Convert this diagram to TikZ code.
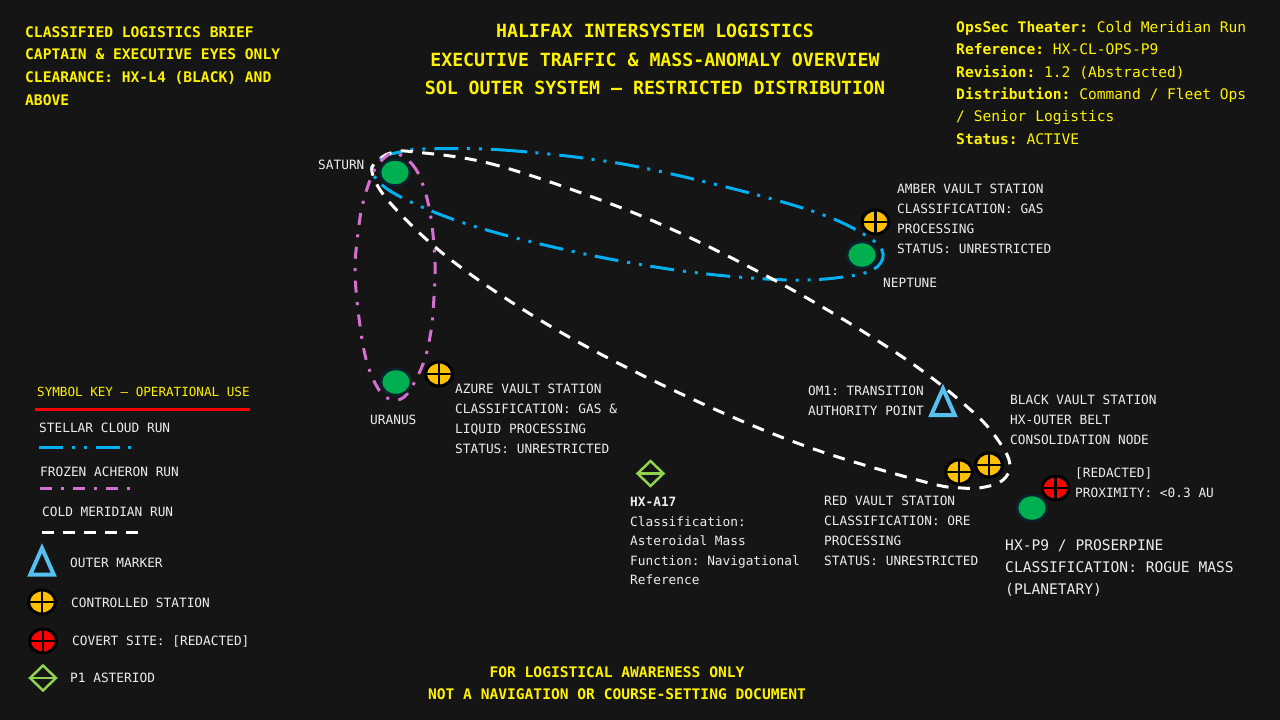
\documentclass[tikz,border=0pt]{standalone}
\usepackage{fontspec}
\setmainfont{DejaVu Sans Mono}
\usetikzlibrary{shapes.geometric}
\definecolor{bgc}{HTML}{151515}
\definecolor{runblue}{HTML}{00B0F0}
\definecolor{runpink}{HTML}{D56FD0}
\definecolor{planetg}{HTML}{00B050}
\definecolor{planetb}{HTML}{0B2330}
\definecolor{amberc}{HTML}{FFC000}
\definecolor{markerc}{HTML}{55C1F0}
\definecolor{astc}{HTML}{92D050}
\definecolor{labelc}{HTML}{EDEDED}
\tikzset{
  planet/.style={ellipse,draw=planetb,line width=2.5pt,fill=planetg,minimum width=30pt,minimum height=26pt,inner sep=0pt},
  crossed/.style={ellipse,draw=black,line width=3pt,fill=#1,minimum width=27pt,minimum height=24pt,inner sep=0pt,
    path picture={\draw[black,line width=2.2pt] (path picture bounding box.north)--(path picture bounding box.south)
      (path picture bounding box.west)--(path picture bounding box.east);}},
  markertri/.style={isosceles triangle,isosceles triangle apex angle=52,isosceles triangle stretches,shape border rotate=90,
    draw=markerc,line width=4pt,miter limit=10,minimum width=23.5pt,minimum height=26.5pt,inner sep=0pt},
  asteroid/.style={diamond,draw=astc,line width=2.5pt,minimum width=27pt,minimum height=26pt,inner sep=0pt,
    path picture={\draw[astc,line width=2.2pt] (path picture bounding box.west)--(path picture bounding box.east);}},
  bluerun/.style={draw=runblue,line width=3pt,dash pattern=on 24pt off 8.5pt on 3pt off 9pt on 3pt off 9pt},
  pinkrun/.style={draw=runpink,line width=3pt,dash pattern=on 12pt off 9.5pt on 3pt off 9.5pt},
  whiterun/.style={draw=white,line width=3pt,dash pattern=on 12pt off 9.5pt},
  lab/.style={text=labelc,font=\fontsize{12.8pt}{20pt}\selectfont,inner sep=0pt,align=left,anchor=north west},
  labline/.style={text=labelc,font=\fontsize{12.8pt}{20pt}\selectfont,inner sep=0pt,anchor=base west},
  biglab/.style={text=labelc,font=\fontsize{14.6pt}{22pt}\selectfont,inner sep=0pt,align=left,anchor=north west},
  ylab/.style={text=yellow,font=\fontsize{14.6pt}{22.4pt}\selectfont,inner sep=0pt,align=left,anchor=north west},
  ybold/.style={text=yellow,font=\fontsize{14.6pt}{22.7pt}\selectfont\bfseries,inner sep=0pt,align=left,anchor=north west},
  ytitle/.style={text=yellow,font=\fontsize{18.2pt}{28.5pt}\selectfont\bfseries,inner sep=0pt,align=center,anchor=north},
  yfoot/.style={text=yellow,font=\fontsize{14.6pt}{22.3pt}\selectfont\bfseries,inner sep=0pt,align=center,anchor=north},
}
\begin{document}
\begin{tikzpicture}[x=1pt,y=-1pt]
\frenchspacing
\useasboundingbox (0,0) rectangle (1280,720);
\fill[bgc] (0,0) rectangle (1280,720);
% anchors of the loops
\coordinate (satB) at (423,149);
\coordinate (satW) at (415,152);
\coordinate (satT) at (395,153);
\coordinate (uraB) at (393,400);
\coordinate (nepE) at (882,250);
\coordinate (blkE) at (1010,465);
% loops
\draw[bluerun] plot[smooth cycle,tension=.6] coordinates {(satB) (503,150) (617,163) (730,188) (815,212) (860,232) (nepE) (877,267) (850,276) (790,280) (690,272) (580,253) (470,225) (397,195) (372,172) (381,158) (400,152)};
\draw[whiterun] plot[smooth cycle,tension=.6] coordinates {(satW) (488,163) (587,195) (680,233) (798,293) (907,360) (973,412) (1000,443) (blkE) (1003,480) (985,487) (962,488) (925,482) (808,447) (690,398) (562,333) (455,263) (392,205) (372,172) (381,158) (395,152)};
\draw[pinkrun] plot[smooth cycle,tension=.6] coordinates {(satT) (412,164) (423,185) (431,218) (435,263) (434,297) (431,331) (423,364) (407,394) (uraB) (379,390) (366,359) (358,310) (355,270) (357,242) (362,207) (372,175) (382,160)};
% map symbols
\node[planet] (saturn) at (395,172.5) {};
\node[planet] (neptune) at (862,255) {};
\node[planet] (uranus) at (396,382) {};
\node[planet] (proserpine) at (1032,508) {};
\node[crossed=amberc] (amber) at (875.5,222) {};
\node[crossed=amberc] (azure) at (439,374) {};
\node[crossed=amberc] (redvault) at (959,472) {};
\node[crossed=amberc] (blackvault) at (989,465) {};
\node[crossed=red] (redacted) at (1055.5,488) {};
\node[markertri] (om1) at (943,407.5) {};
\node[asteroid] (a17) at (650.5,473.5) {};
% titles
\node[ybold] (brief) at (25,26) {CLASSIFIED LOGISTICS BRIEF\\CAPTAIN \& EXECUTIVE EYES ONLY\\CLEARANCE: HX-L4 (BLACK) AND\\ABOVE};
\node[ytitle] (title) at (655,24) {HALIFAX INTERSYSTEM LOGISTICS\\EXECUTIVE TRAFFIC \& MASS-ANOMALY OVERVIEW\\SOL OUTER SYSTEM — RESTRICTED DISTRIBUTION};
\node[ylab] (ops) at (956,21) {\textbf{OpsSec Theater:} Cold Meridian Run\\\textbf{Reference:} HX-CL-OPS-P9\\\textbf{Revision:} 1.2 (Abstracted)\\\textbf{Distribution:} Command / Fleet Ops\\/ Senior Logistics\\\textbf{Status:} ACTIVE};
\node[yfoot] (foot) at (617,666) {FOR LOGISTICAL AWARENESS ONLY\\NOT A NAVIGATION OR COURSE-SETTING DOCUMENT};
% map labels
\node[labline] (lsat) at (318,169) {SATURN};
\node[labline] (lnep) at (883,287) {NEPTUNE};
\node[labline] (lura) at (370,424) {URANUS};
\node[lab] (lamber) at (897,184) {AMBER VAULT STATION\\CLASSIFICATION: GAS\\PROCESSING\\STATUS: UNRESTRICTED};
\node[lab] (lazure) at (455,384) {AZURE VAULT STATION\\CLASSIFICATION: GAS \&\\LIQUID PROCESSING\\STATUS: UNRESTRICTED};
\node[lab] (lom) at (808,386) {OM1: TRANSITION\\AUTHORITY POINT};
\node[lab] (lblack) at (1010,395) {BLACK VAULT STATION\\HX-OUTER BELT\\CONSOLIDATION NODE};
\node[lab] (lred) at (824,496) {RED VAULT STATION\\CLASSIFICATION: ORE\\PROCESSING\\STATUS: UNRESTRICTED};
\node[lab] (lcov) at (1075,468) {[REDACTED]\\PROXIMITY: <0.3 AU};
\node[lab,font=\fontsize{12.8pt}{19.6pt}\selectfont] (lhx) at (630,497) {\textbf{HX-A17}\\Classification:\\Asteroidal Mass\\Function: Navigational\\Reference};
\node[biglab] (lp9) at (1005,539) {HX-P9 / PROSERPINE\\CLASSIFICATION: ROGUE MASS\\(PLANETARY)};
% legend
\node[labline,text=yellow,font=\fontsize{12.6pt}{20pt}\selectfont] (keyt) at (37,396) {SYMBOL KEY — OPERATIONAL USE};
\coordinate (rl) at (35,409); \coordinate (rr) at (250,409);
\draw[red,line width=3pt] (rl) -- (rr);
\node[labline] (k1) at (39,432) {STELLAR CLOUD RUN};
\coordinate (b1) at (39,447); \coordinate (b2) at (132,447);
\draw[bluerun] (b1) -- (b2);
\node[labline] (k2) at (40,476) {FROZEN ACHERON RUN};
\coordinate (p1) at (40,488); \coordinate (p2) at (131,488);
\draw[pinkrun,dash pattern=on 12pt off 9pt on 3pt off 9pt] (p1) -- (p2);
\node[labline] (k3) at (42,516) {COLD MERIDIAN RUN};
\coordinate (w1) at (42,532); \coordinate (w2) at (138,532);
\draw[whiterun,dash pattern=on 12pt off 9pt] (w1) -- (w2);
\node[markertri] (kmark) at (42,567) {};
\node[labline] (k4) at (70,567) {OUTER MARKER};
\node[crossed=amberc] (kst) at (42,602) {};
\node[labline] (k5) at (71,607) {CONTROLLED STATION};
\node[crossed=red] (kcov) at (43,641) {};
\node[labline] (k6) at (72,645) {COVERT SITE: [REDACTED]};
\node[asteroid] (kast) at (43,678) {};
\node[labline] (k7) at (70,682) {P1 ASTERIOD};
\end{tikzpicture}
\end{document}
